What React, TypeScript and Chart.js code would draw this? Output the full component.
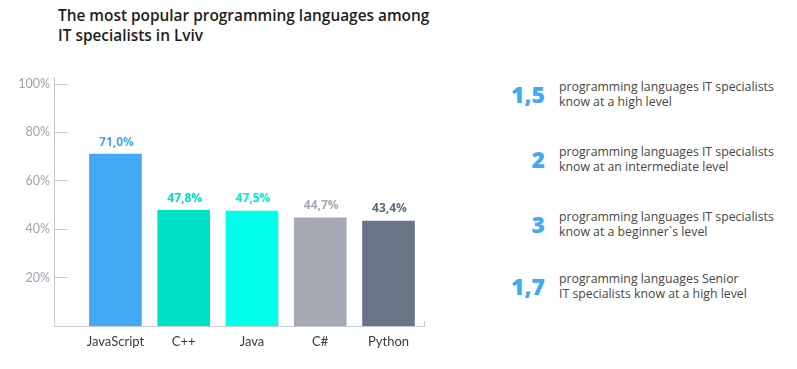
import React, { useEffect, useRef } from "react";
import { Chart, registerables } from "chart.js";

Chart.register(...registerables);

const categories = ["JavaScript", "C++", "Java", "C#", "Python"];
const shares = [71.0, 47.8, 47.5, 44.7, 43.4];
const barColors = ["#42a9f5", "#00e1ca", "#00ffea", "#a4a9b4", "#687588"];
const labelColors = ["#42a9f5", "#00dcc4", "#00ecdc", "#a4a9b4", "#5f6b7c"];
const yTicks = [20, 40, 60, 80, 100];
const titleLines = ["The most popular programming languages among", "IT specialists in Lviv"];
const factNumbers = ["1,5", "2", "3", "1,7"];
const factTexts = [
  ["programming languages IT specialists", "know at a high level"],
  ["programming languages IT specialists", "know at an intermediate level"],
  ["programming languages IT specialists", "know at a beginner`s level"],
  ["programming languages Senior", "IT specialists know at a high level"],
];

const AXIS = "#c6cbd4";
const FONT = "Lato, 'Open Sans', sans-serif";
const FONT2 = "'Open Sans', Lato, sans-serif";
const X_MIN = 0.1;
const X_MAX = 5.52;

const valueLabels = {
  id: "valueLabels",
  afterDatasetsDraw(chart: any) {
    const ctx = chart.ctx;
    const meta = chart.getDatasetMeta(0);
    ctx.save();
    ctx.font = `bold 12px ${FONT2}`;
    ctx.textAlign = "center";
    ctx.textBaseline = "middle";
    meta.data.forEach((el: any, i: number) => {
      ctx.fillStyle = labelColors[i];
      ctx.fillText(shares[i].toFixed(1).replace(".", ",") + "%", el.x + 1, el.y - 12);
    });
    ctx.restore();
  },
};

export default function App() {
  const ref = useRef<HTMLCanvasElement | null>(null);
  useEffect(() => {
    if (!ref.current) return;
    const chart = new Chart(ref.current, {
      type: "bar",
      data: {
        datasets: [
          {
            data: shares.map((v, i) => ({ x: i + 1, y: v })),
            backgroundColor: barColors,
            borderWidth: 0,
            barThickness: 52,
          },
        ],
      },
      options: {
        responsive: false,
        animation: false,
        layout: { padding: { left: 0, right: 36, top: 77, bottom: 0 } },
        plugins: { legend: { display: false }, tooltip: { enabled: false }, title: { display: false } },
        scales: {
          x: {
            type: "linear",
            min: X_MIN,
            max: X_MAX,
            offset: false,
            afterBuildTicks: (scale: any) => {
              scale.ticks = [...categories.map((_, i) => ({ value: i + 1 })), { value: X_MAX }];
            },
            afterFit: (scale: any) => {
              scale.height = 43;
            },
            grid: {
              offset: false,
              drawOnChartArea: false,
              drawTicks: true,
              tickLength: -5,
              color: (c: any) => (c.index === categories.length ? AXIS : "rgba(0,0,0,0)"),
            },
            border: { display: true, color: AXIS, width: 1 },
            ticks: {
              padding: 13,
              color: "#3b3b3b",
              font: { family: FONT, size: 13 },
              maxRotation: 0,
              autoSkip: false,
              callback: (_v: any, i: number) => (i < categories.length ? categories[i] : ""),
            },
          },
          y: {
            min: 0,
            max: 102.9,
            afterBuildTicks: (scale: any) => {
              scale.ticks = yTicks.map((v) => ({ value: v }));
            },
            afterFit: (scale: any) => {
              scale.width = 54;
            },
            grid: {
              drawOnChartArea: false,
              drawTicks: true,
              tickLength: -14,
              color: AXIS,
            },
            border: { display: true, color: AXIS, width: 1 },
            ticks: {
              padding: 18,
              color: "#9ba2b0",
              font: { family: FONT, size: 12.5 },
              callback: (v: any) => v + "%",
            },
          },
        },
      },
      plugins: [valueLabels],
    });
    return () => chart.destroy();
  }, []);

  const rowTops = [79, 144, 209, 271];
  return (
    <div
      style={{
        position: "fixed",
        left: 0,
        top: 0,
        width: 797,
        height: 369,
        background: "#fff",
        fontFamily: FONT2,
        overflow: "hidden",
      }}
    >
      <div
        style={{
          position: "absolute",
          left: 58,
          top: 6,
          fontSize: 15.4,
          fontWeight: 600,
          lineHeight: "20px",
          color: "#1e1e1e",
          whiteSpace: "nowrap",
        }}
      >
        {titleLines.map((t, i) => (
          <div key={i}>{t}</div>
        ))}
      </div>
      <canvas ref={ref} width={460} height={369} style={{ position: "absolute", left: 0, top: 0 }} />
      {factNumbers.map((n, i) => (
        <div key={i} style={{ position: "absolute", left: 480, top: rowTops[i], width: 317, height: 32 }}>
          <div
            style={{
              position: "absolute",
              right: 317 - 65,
              top: 0,
              fontSize: 23,
              fontWeight: 800,
              color: "#42a9f5",
              lineHeight: "30px",
              whiteSpace: "nowrap",
            }}
          >
            {n}
          </div>
          <div
            style={{
              position: "absolute",
              left: 79,
              top: 0,
              fontSize: 12.3,
              lineHeight: "15px",
              color: "#474747",
              whiteSpace: "nowrap",
            }}
          >
            {factTexts[i].map((t, j) => (
              <div key={j}>{t}</div>
            ))}
          </div>
        </div>
      ))}
    </div>
  );
}
